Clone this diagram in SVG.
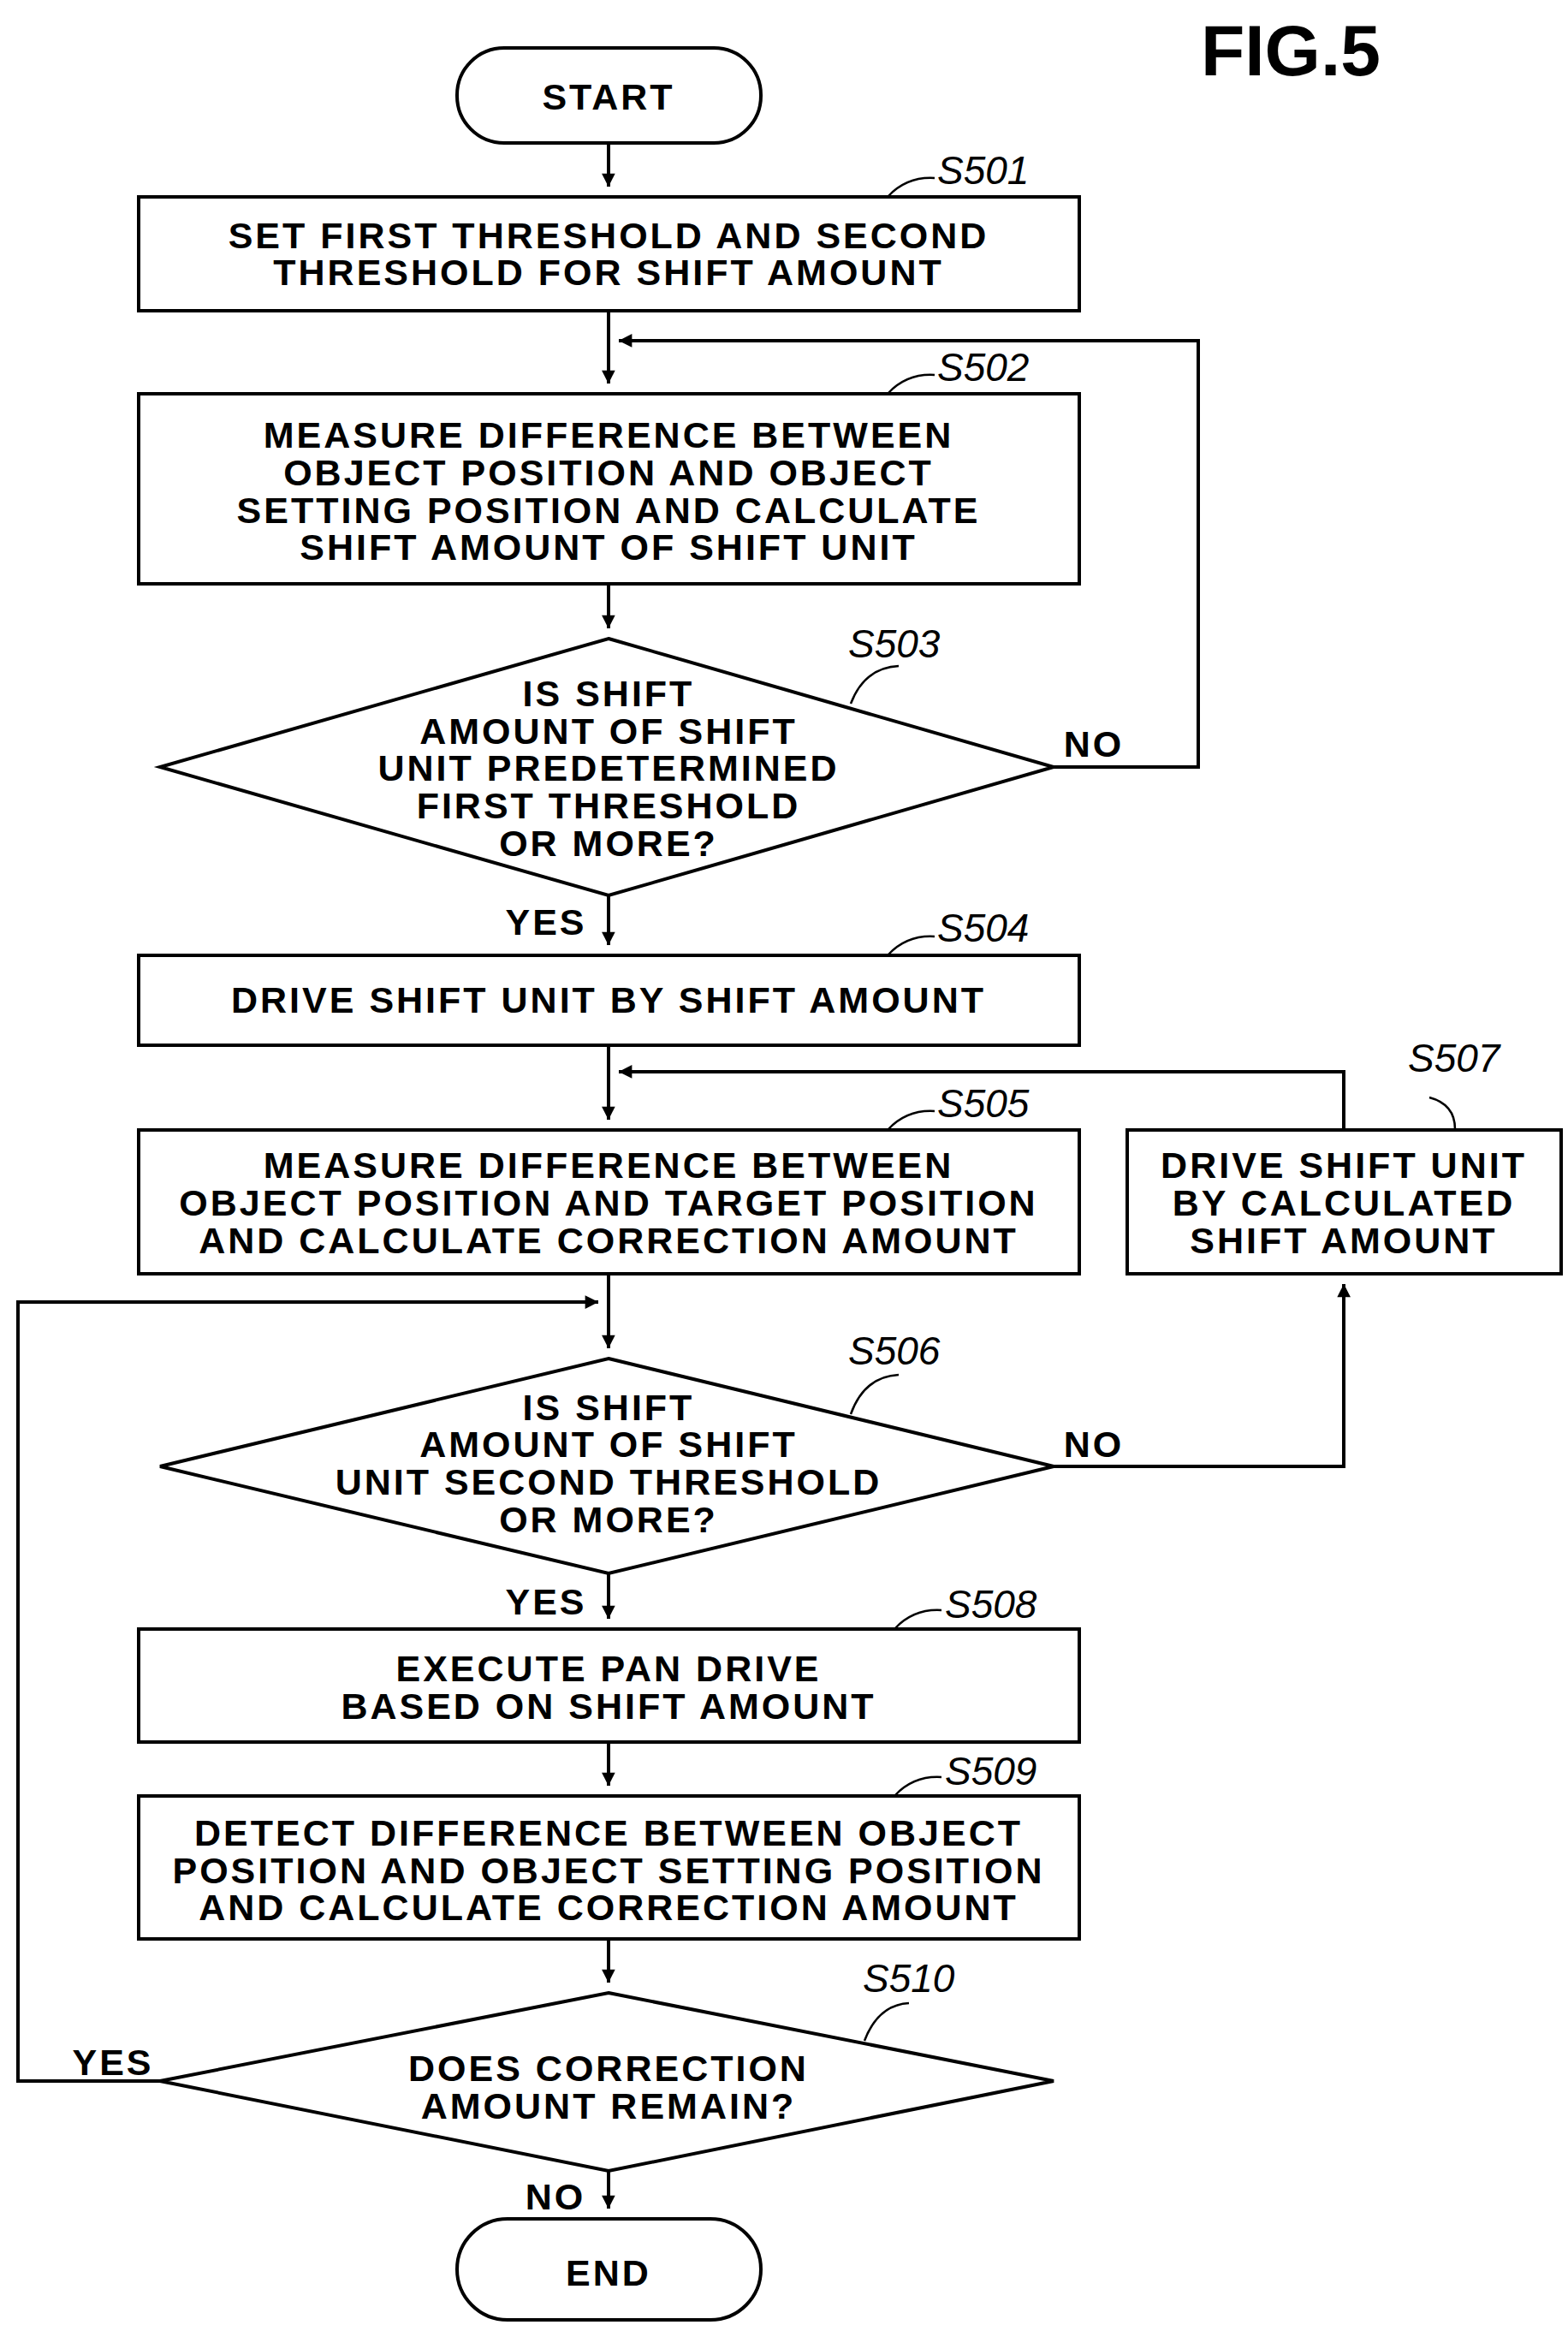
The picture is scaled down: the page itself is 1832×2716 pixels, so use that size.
<svg xmlns="http://www.w3.org/2000/svg" width="1832" height="2716" viewBox="0 0 1832 2716">
<style>
.b{fill:#fff;stroke:#000;stroke-width:4}
.t{font-family:"Liberation Sans",Arial,sans-serif;font-weight:bold;font-size:43px;letter-spacing:3px;text-anchor:middle}
.l{font-family:"Liberation Sans",Arial,sans-serif;font-style:italic;font-size:46px}
.c{fill:none;stroke:#000;stroke-width:4}
.ld{fill:none;stroke:#000;stroke-width:2.5}
</style>
<defs><marker id="a" viewBox="0 0 10 10" refX="10" refY="5" markerWidth="6" markerHeight="6" orient="auto" markerUnits="userSpaceOnUse" style="overflow:visible"><path d="M0,0L10,5L0,10z" transform="scale(2.6) translate(-6,-3)"/></marker></defs>
<text x="1508" y="88" style="font-family:'Liberation Sans',Arial,sans-serif;font-weight:bold;font-size:84px;text-anchor:middle">FIG.5</text>
<g id="connectors">
<path class="c" d="M711,167V218" marker-end="url(#a)"/>
<path class="c" d="M711,363V448" marker-end="url(#a)"/>
<path class="c" d="M1231,896H1400V398H723" marker-end="url(#a)"/>
<path class="c" d="M711,682V734" marker-end="url(#a)"/>
<path class="c" d="M711,1046V1104" marker-end="url(#a)"/>
<path class="c" d="M711,1221V1308" marker-end="url(#a)"/>
<path class="c" d="M1570,1320V1252H723" marker-end="url(#a)"/>
<path class="c" d="M711,1488V1575" marker-end="url(#a)"/>
<path class="c" d="M1231,1713H1570V1500" marker-end="url(#a)"/>
<path class="c" d="M711,1838V1891" marker-end="url(#a)"/>
<path class="c" d="M711,2035V2086" marker-end="url(#a)"/>
<path class="c" d="M711,2265V2316" marker-end="url(#a)"/>
<path class="c" d="M187,2431H21V1521H699" marker-end="url(#a)"/>
<path class="c" d="M711,2536V2580" marker-end="url(#a)"/>
</g>
<g id="start"><rect class="b" x="534" y="56" width="355" height="111" rx="55"/><text class="t" x="711" y="128">START</text></g>
<g id="s501"><rect class="b" x="162" y="230" width="1099" height="133"/><text class="t" x="711" y="290">SET FIRST THRESHOLD AND SECOND</text><text class="t" x="711" y="333">THRESHOLD FOR SHIFT AMOUNT</text>
<path class="ld" d="M1038,229Q1060,206 1092,208"/><text class="l" x="1095" y="215">S501</text></g>
<g id="s502"><rect class="b" x="162" y="460" width="1099" height="222"/><text class="t" x="711" y="523">MEASURE DIFFERENCE BETWEEN</text><text class="t" x="711" y="567">OBJECT POSITION AND OBJECT</text><text class="t" x="711" y="611">SETTING POSITION AND CALCULATE</text><text class="t" x="711" y="654">SHIFT AMOUNT OF SHIFT UNIT</text>
<path class="ld" d="M1038,459Q1060,436 1092,438"/><text class="l" x="1095" y="445">S502</text></g>
<g id="s503"><path class="b" d="M711,746L1231,896L711,1046L187,896Z"/><text class="t" x="711" y="825">IS SHIFT</text><text class="t" x="711" y="869">AMOUNT OF SHIFT</text><text class="t" x="711" y="912">UNIT PREDETERMINED</text><text class="t" x="711" y="956">FIRST THRESHOLD</text><text class="t" x="711" y="1000">OR MORE?</text>
<path class="ld" d="M994,822Q1010,780 1050,778"/><text class="l" x="991" y="768">S503</text>
<text class="t" x="1278" y="884">NO</text><text class="t" x="638" y="1092">YES</text></g>
<g id="s504"><rect class="b" x="162" y="1116" width="1099" height="105"/><text class="t" x="711" y="1183">DRIVE SHIFT UNIT BY SHIFT AMOUNT</text>
<path class="ld" d="M1038,1115Q1060,1092 1092,1094"/><text class="l" x="1095" y="1100">S504</text></g>
<g id="s505"><rect class="b" x="162" y="1320" width="1099" height="168"/><text class="t" x="711" y="1376">MEASURE DIFFERENCE BETWEEN</text><text class="t" x="711" y="1420">OBJECT POSITION AND TARGET POSITION</text><text class="t" x="711" y="1464">AND CALCULATE CORRECTION AMOUNT</text>
<path class="ld" d="M1038,1319Q1060,1296 1092,1298"/><text class="l" x="1095" y="1305">S505</text></g>
<g id="s507"><rect class="b" x="1317" y="1320" width="507" height="168"/><text class="t" x="1570" y="1376">DRIVE SHIFT UNIT</text><text class="t" x="1570" y="1420">BY CALCULATED</text><text class="t" x="1570" y="1464">SHIFT AMOUNT</text>
<path class="ld" d="M1670,1282Q1700,1290 1700,1319"/><text class="l" x="1645" y="1252">S507</text></g>
<g id="s506"><path class="b" d="M711,1587L1231,1713L711,1838L187,1713Z"/><text class="t" x="711" y="1659">IS SHIFT</text><text class="t" x="711" y="1702">AMOUNT OF SHIFT</text><text class="t" x="711" y="1746">UNIT SECOND THRESHOLD</text><text class="t" x="711" y="1790">OR MORE?</text>
<path class="ld" d="M994,1652Q1010,1608 1050,1606"/><text class="l" x="991" y="1594">S506</text>
<text class="t" x="1278" y="1702">NO</text><text class="t" x="638" y="1886">YES</text></g>
<g id="s508"><rect class="b" x="162" y="1903" width="1099" height="132"/><text class="t" x="711" y="1964">EXECUTE PAN DRIVE</text><text class="t" x="711" y="2008">BASED ON SHIFT AMOUNT</text>
<path class="ld" d="M1046,1902Q1068,1879 1100,1881"/><text class="l" x="1104" y="1890">S508</text></g>
<g id="s509"><rect class="b" x="162" y="2098" width="1099" height="167"/><text class="t" x="711" y="2156">DETECT DIFFERENCE BETWEEN OBJECT</text><text class="t" x="711" y="2200">POSITION AND OBJECT SETTING POSITION</text><text class="t" x="711" y="2243">AND CALCULATE CORRECTION AMOUNT</text>
<path class="ld" d="M1046,2097Q1068,2074 1100,2076"/><text class="l" x="1104" y="2085">S509</text></g>
<g id="s510"><path class="b" d="M711,2328L1231,2431L711,2536L187,2431Z"/><text class="t" x="711" y="2431">DOES CORRECTION</text><text class="t" x="711" y="2475">AMOUNT REMAIN?</text>
<path class="ld" d="M1010,2384Q1026,2342 1062,2340"/><text class="l" x="1008" y="2327">S510</text>
<text class="t" x="132" y="2424">YES</text><text class="t" x="649" y="2581">NO</text></g>
<g id="end"><rect class="b" x="534" y="2592" width="355" height="118" rx="59"/><text class="t" x="711" y="2670">END</text></g>
</svg>
